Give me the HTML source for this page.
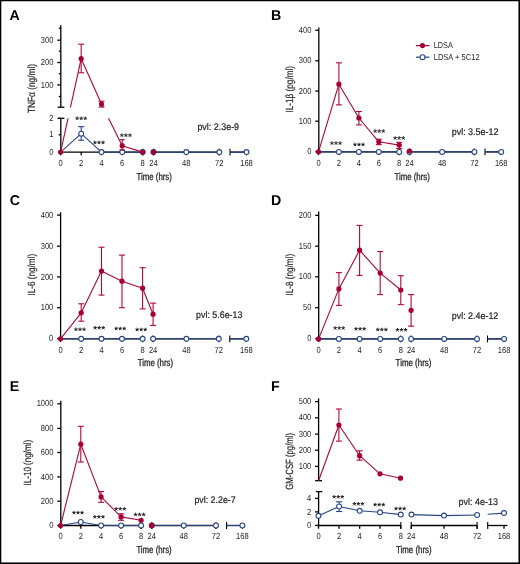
<!DOCTYPE html>
<html><head><meta charset="utf-8"><style>
html,body{margin:0;padding:0;background:#fff;width:520px;height:564px;overflow:hidden}
</style></head><body>
<svg width="520" height="564" viewBox="0 0 520 564" style="position:absolute;left:0;top:0;will-change:transform">
<g font-family='"Liberation Sans", sans-serif' text-rendering="geometricPrecision">
<defs>
<clipPath id="clipA"><rect x="0" y="0" width="260" height="107.4"/><rect x="0" y="118.2" width="260" height="80"/></clipPath>
<clipPath id="clipF"><rect x="260" y="370" width="260" height="110.8"/></clipPath>
</defs>
<rect x="0" y="0" width="520" height="564" fill="#fff"/>
<text x="9.5" y="19.9" font-size="14.2" text-anchor="start" font-weight="bold" fill="#000" >A</text>
<line x1="60.8" y1="25.2" x2="60.8" y2="107.2" stroke="#000" stroke-width="1.3" />
<line x1="57.3" y1="40.2" x2="60.8" y2="40.2" stroke="#000" stroke-width="1.3" />
<text transform="translate(53.50,42.80) scale(0.86,1)" font-size="8.8" text-anchor="end" font-weight="normal" fill="#231f20" >300</text>
<line x1="57.3" y1="62.5" x2="60.8" y2="62.5" stroke="#000" stroke-width="1.3" />
<text transform="translate(53.50,65.10) scale(0.86,1)" font-size="8.8" text-anchor="end" font-weight="normal" fill="#231f20" >200</text>
<line x1="57.3" y1="84.9" x2="60.8" y2="84.9" stroke="#000" stroke-width="1.3" />
<text transform="translate(53.50,87.50) scale(0.86,1)" font-size="8.8" text-anchor="end" font-weight="normal" fill="#231f20" >100</text>
<line x1="58.8" y1="28.3" x2="60.8" y2="28.3" stroke="#000" stroke-width="1.3" />
<line x1="58.8" y1="51.2" x2="60.8" y2="51.2" stroke="#000" stroke-width="1.3" />
<line x1="58.8" y1="73.7" x2="60.8" y2="73.7" stroke="#000" stroke-width="1.3" />
<line x1="58.8" y1="96.5" x2="60.8" y2="96.5" stroke="#000" stroke-width="1.3" />
<line x1="57.6" y1="107.2" x2="64.4" y2="107.2" stroke="#000" stroke-width="1.3" />
<line x1="60.8" y1="118.3" x2="60.8" y2="152.1" stroke="#000" stroke-width="1.3" />
<line x1="58.599999999999994" y1="118.3" x2="60.8" y2="118.3" stroke="#000" stroke-width="1.3" />
<text transform="translate(53.50,120.90) scale(0.86,1)" font-size="8.8" text-anchor="end" font-weight="normal" fill="#231f20" >2</text>
<line x1="58.599999999999994" y1="134.8" x2="60.8" y2="134.8" stroke="#000" stroke-width="1.3" />
<text transform="translate(53.50,137.40) scale(0.86,1)" font-size="8.8" text-anchor="end" font-weight="normal" fill="#231f20" >1</text>
<line x1="58.599999999999994" y1="152.1" x2="60.8" y2="152.1" stroke="#000" stroke-width="1.3" />
<text transform="translate(53.50,154.70) scale(0.86,1)" font-size="8.8" text-anchor="end" font-weight="normal" fill="#231f20" >0</text>
<line x1="57.6" y1="118.3" x2="64.4" y2="118.3" stroke="#000" stroke-width="1.3" />
<line x1="60.8" y1="152.1" x2="142.7" y2="152.1" stroke="#000" stroke-width="1.3" />
<line x1="153.5" y1="152.1" x2="219.3" y2="152.1" stroke="#000" stroke-width="1.3" />
<line x1="230" y1="152.1" x2="248.5" y2="152.1" stroke="#000" stroke-width="1.3" />
<line x1="60.6" y1="152.1" x2="60.6" y2="155.29999999999998" stroke="#000" stroke-width="1.3" />
<line x1="81.2" y1="152.1" x2="81.2" y2="155.29999999999998" stroke="#000" stroke-width="1.3" />
<line x1="101.5" y1="152.1" x2="101.5" y2="155.29999999999998" stroke="#000" stroke-width="1.3" />
<line x1="122.2" y1="152.1" x2="122.2" y2="155.29999999999998" stroke="#000" stroke-width="1.3" />
<line x1="142.7" y1="152.1" x2="142.7" y2="155.29999999999998" stroke="#000" stroke-width="1.3" />
<line x1="153.5" y1="152.1" x2="153.5" y2="155.29999999999998" stroke="#000" stroke-width="1.3" />
<line x1="186.3" y1="152.1" x2="186.3" y2="155.29999999999998" stroke="#000" stroke-width="1.3" />
<line x1="219.3" y1="152.1" x2="219.3" y2="155.29999999999998" stroke="#000" stroke-width="1.3" />
<line x1="246.5" y1="152.1" x2="246.5" y2="155.29999999999998" stroke="#000" stroke-width="1.3" />
<line x1="142.7" y1="148.7" x2="142.7" y2="155.5" stroke="#000" stroke-width="1.1" />
<line x1="153.5" y1="148.7" x2="153.5" y2="155.5" stroke="#000" stroke-width="1.1" />
<line x1="219.3" y1="148.7" x2="219.3" y2="155.5" stroke="#000" stroke-width="1.1" />
<line x1="230" y1="148.7" x2="230" y2="155.5" stroke="#000" stroke-width="1.1" />
<text transform="translate(60.60,166.20) scale(0.86,1)" font-size="8.8" text-anchor="middle" font-weight="normal" fill="#231f20" >0</text>
<text transform="translate(81.20,166.20) scale(0.86,1)" font-size="8.8" text-anchor="middle" font-weight="normal" fill="#231f20" >2</text>
<text transform="translate(101.50,166.20) scale(0.86,1)" font-size="8.8" text-anchor="middle" font-weight="normal" fill="#231f20" >4</text>
<text transform="translate(122.20,166.20) scale(0.86,1)" font-size="8.8" text-anchor="middle" font-weight="normal" fill="#231f20" >6</text>
<text transform="translate(142.70,166.20) scale(0.86,1)" font-size="8.8" text-anchor="middle" font-weight="normal" fill="#231f20" >8</text>
<text transform="translate(153.50,166.20) scale(0.86,1)" font-size="8.8" text-anchor="middle" font-weight="normal" fill="#231f20" >24</text>
<text transform="translate(186.30,166.20) scale(0.86,1)" font-size="8.8" text-anchor="middle" font-weight="normal" fill="#231f20" >48</text>
<text transform="translate(219.30,166.20) scale(0.86,1)" font-size="8.8" text-anchor="middle" font-weight="normal" fill="#231f20" >72</text>
<text transform="translate(246.50,166.20) scale(0.86,1)" font-size="8.8" text-anchor="middle" font-weight="normal" fill="#231f20" >168</text>
<polyline points="60.6,152.1 81.2,133.7 101.5,152.1 122.2,152.1 142.7,152.1" fill="none" stroke="#284683" stroke-width="1.12" stroke-linejoin="round"/>
<polyline points="153.5,152.1 186.3,152.1 219.3,152.1" fill="none" stroke="#284683" stroke-width="1.12" stroke-linejoin="round"/>
<polyline points="230,152.1 246.5,152.1" fill="none" stroke="#284683" stroke-width="1.12" stroke-linejoin="round"/>
<line x1="81.2" y1="126.7" x2="81.2" y2="140.2" stroke="#284683" stroke-width="1.1" />
<line x1="78.10000000000001" y1="126.7" x2="84.3" y2="126.7" stroke="#284683" stroke-width="1.1" />
<line x1="78.10000000000001" y1="140.2" x2="84.3" y2="140.2" stroke="#284683" stroke-width="1.1" />
<circle cx="81.2" cy="133.7" r="2.45" fill="#fff" stroke="#284683" stroke-width="1.1"/>
<circle cx="101.5" cy="152.1" r="2.45" fill="#fff" stroke="#284683" stroke-width="1.1"/>
<circle cx="122.2" cy="152.1" r="2.45" fill="#fff" stroke="#284683" stroke-width="1.1"/>
<circle cx="142.7" cy="152.1" r="2.45" fill="#fff" stroke="#284683" stroke-width="1.1"/>
<circle cx="153.5" cy="152.1" r="2.45" fill="#fff" stroke="#284683" stroke-width="1.1"/>
<circle cx="186.3" cy="152.1" r="2.45" fill="#fff" stroke="#284683" stroke-width="1.1"/>
<circle cx="219.3" cy="152.1" r="2.45" fill="#fff" stroke="#284683" stroke-width="1.1"/>
<circle cx="246.5" cy="152.1" r="2.45" fill="#fff" stroke="#284683" stroke-width="1.1"/>
<polyline points="60.6,152.1 81.2,58.7 101.5,104.1 122.2,145.7 142.7,152.1" fill="none" stroke="#b0083a" stroke-width="1.12" stroke-linejoin="round" clip-path="url(#clipA)"/>
<line x1="81.2" y1="44.2" x2="81.2" y2="72.8" stroke="#b0083a" stroke-width="1.1" />
<line x1="78.2" y1="44.2" x2="84.2" y2="44.2" stroke="#b0083a" stroke-width="1.1" />
<line x1="78.2" y1="72.8" x2="84.2" y2="72.8" stroke="#b0083a" stroke-width="1.1" />
<line x1="101.5" y1="101.25" x2="101.5" y2="107.0" stroke="#b0083a" stroke-width="1.1" />
<line x1="98.5" y1="101.25" x2="104.5" y2="101.25" stroke="#b0083a" stroke-width="1.1" />
<line x1="98.5" y1="107.0" x2="104.5" y2="107.0" stroke="#b0083a" stroke-width="1.1" />
<line x1="122.2" y1="139.7" x2="122.2" y2="150.0" stroke="#b0083a" stroke-width="1.1" />
<line x1="119.7" y1="139.7" x2="124.7" y2="139.7" stroke="#b0083a" stroke-width="1.1" />
<line x1="119.7" y1="150.0" x2="124.7" y2="150.0" stroke="#b0083a" stroke-width="1.1" />
<circle cx="60.6" cy="152.1" r="2.6" fill="#a5002f"/>
<circle cx="81.2" cy="58.7" r="2.6" fill="#a5002f"/>
<circle cx="101.5" cy="104.1" r="2.6" fill="#a5002f"/>
<circle cx="122.2" cy="145.7" r="2.6" fill="#a5002f"/>
<circle cx="142.7" cy="152.1" r="2.6" fill="#a5002f"/>
<circle cx="153.5" cy="152.1" r="2.6" fill="#a5002f"/>
<path d="M77.15,118.40L77.15,116.55M77.15,118.40L78.91,117.83M77.15,118.40L78.24,119.90M77.15,118.40L76.06,119.90M77.15,118.40L75.39,117.83M81.20,118.40L81.20,116.55M81.20,118.40L82.96,117.83M81.20,118.40L82.29,119.90M81.20,118.40L80.11,119.90M81.20,118.40L79.44,117.83M85.25,118.40L85.25,116.55M85.25,118.40L87.01,117.83M85.25,118.40L86.34,119.90M85.25,118.40L84.16,119.90M85.25,118.40L83.49,117.83" stroke="#231f20" stroke-width="1.0" fill="none" stroke-linecap="butt"/>
<path d="M94.95,142.50L94.95,140.65M94.95,142.50L96.71,141.93M94.95,142.50L96.04,144.00M94.95,142.50L93.86,144.00M94.95,142.50L93.19,141.93M99.00,142.50L99.00,140.65M99.00,142.50L100.76,141.93M99.00,142.50L100.09,144.00M99.00,142.50L97.91,144.00M99.00,142.50L97.24,141.93M103.05,142.50L103.05,140.65M103.05,142.50L104.81,141.93M103.05,142.50L104.14,144.00M103.05,142.50L101.96,144.00M103.05,142.50L101.29,141.93" stroke="#231f20" stroke-width="1.0" fill="none" stroke-linecap="butt"/>
<path d="M121.85,135.30L121.85,133.45M121.85,135.30L123.61,134.73M121.85,135.30L122.94,136.80M121.85,135.30L120.76,136.80M121.85,135.30L120.09,134.73M125.90,135.30L125.90,133.45M125.90,135.30L127.66,134.73M125.90,135.30L126.99,136.80M125.90,135.30L124.81,136.80M125.90,135.30L124.14,134.73M129.95,135.30L129.95,133.45M129.95,135.30L131.71,134.73M129.95,135.30L131.04,136.80M129.95,135.30L128.86,136.80M129.95,135.30L128.19,134.73" stroke="#231f20" stroke-width="1.0" fill="none" stroke-linecap="butt"/>
<text x="154.20000000000002" y="179.6" font-size="10" text-anchor="middle" font-weight="normal" fill="#231f20" textLength="35.4" lengthAdjust="spacingAndGlyphs" stroke="#231f20" stroke-width="0.3">Time (hrs)</text>
<text transform="translate(34.70,88.50) rotate(-90)" font-size="10.4" text-anchor="middle" fill="#231f20" stroke="#231f20" stroke-width="0.18" textLength="49.2" lengthAdjust="spacingAndGlyphs">TNFα (ng/ml)</text>
<text x="197.4" y="130.1" font-size="9.6" text-anchor="start" font-weight="normal" fill="#231f20" textLength="41.7" lengthAdjust="spacingAndGlyphs" stroke="#231f20" stroke-width="0.22">pvl: 2.3e-9</text>
<text x="271.0" y="19.7" font-size="14.2" text-anchor="start" font-weight="bold" fill="#000" >B</text>
<line x1="318.8" y1="27.4" x2="318.8" y2="152.0" stroke="#000" stroke-width="1.3" />
<line x1="315.3" y1="30.3" x2="318.8" y2="30.3" stroke="#000" stroke-width="1.3" />
<text transform="translate(311.50,32.90) scale(0.86,1)" font-size="8.8" text-anchor="end" font-weight="normal" fill="#231f20" >400</text>
<line x1="315.3" y1="60.8" x2="318.8" y2="60.8" stroke="#000" stroke-width="1.3" />
<text transform="translate(311.50,63.40) scale(0.86,1)" font-size="8.8" text-anchor="end" font-weight="normal" fill="#231f20" >300</text>
<line x1="315.3" y1="91.1" x2="318.8" y2="91.1" stroke="#000" stroke-width="1.3" />
<text transform="translate(311.50,93.70) scale(0.86,1)" font-size="8.8" text-anchor="end" font-weight="normal" fill="#231f20" >200</text>
<line x1="315.3" y1="121.2" x2="318.8" y2="121.2" stroke="#000" stroke-width="1.3" />
<text transform="translate(311.50,123.80) scale(0.86,1)" font-size="8.8" text-anchor="end" font-weight="normal" fill="#231f20" >100</text>
<line x1="315.3" y1="151.8" x2="318.8" y2="151.8" stroke="#000" stroke-width="1.3" />
<text transform="translate(311.50,154.40) scale(0.86,1)" font-size="8.8" text-anchor="end" font-weight="normal" fill="#231f20" >0</text>
<line x1="318.8" y1="151.9" x2="399.2" y2="151.9" stroke="#000" stroke-width="1.3" />
<line x1="409.5" y1="151.9" x2="474.4" y2="151.9" stroke="#000" stroke-width="1.3" />
<line x1="485" y1="151.9" x2="503.5" y2="151.9" stroke="#000" stroke-width="1.3" />
<line x1="318.5" y1="151.9" x2="318.5" y2="155.1" stroke="#000" stroke-width="1.3" />
<line x1="338.9" y1="151.9" x2="338.9" y2="155.1" stroke="#000" stroke-width="1.3" />
<line x1="358.9" y1="151.9" x2="358.9" y2="155.1" stroke="#000" stroke-width="1.3" />
<line x1="378.8" y1="151.9" x2="378.8" y2="155.1" stroke="#000" stroke-width="1.3" />
<line x1="399.2" y1="151.9" x2="399.2" y2="155.1" stroke="#000" stroke-width="1.3" />
<line x1="409.5" y1="151.9" x2="409.5" y2="155.1" stroke="#000" stroke-width="1.3" />
<line x1="442.1" y1="151.9" x2="442.1" y2="155.1" stroke="#000" stroke-width="1.3" />
<line x1="474.4" y1="151.9" x2="474.4" y2="155.1" stroke="#000" stroke-width="1.3" />
<line x1="501.2" y1="151.9" x2="501.2" y2="155.1" stroke="#000" stroke-width="1.3" />
<line x1="399.2" y1="148.5" x2="399.2" y2="155.3" stroke="#000" stroke-width="1.1" />
<line x1="409.5" y1="148.5" x2="409.5" y2="155.3" stroke="#000" stroke-width="1.1" />
<line x1="474.4" y1="148.5" x2="474.4" y2="155.3" stroke="#000" stroke-width="1.1" />
<line x1="485" y1="148.5" x2="485" y2="155.3" stroke="#000" stroke-width="1.1" />
<text transform="translate(318.50,166.20) scale(0.86,1)" font-size="8.8" text-anchor="middle" font-weight="normal" fill="#231f20" >0</text>
<text transform="translate(338.90,166.20) scale(0.86,1)" font-size="8.8" text-anchor="middle" font-weight="normal" fill="#231f20" >2</text>
<text transform="translate(358.90,166.20) scale(0.86,1)" font-size="8.8" text-anchor="middle" font-weight="normal" fill="#231f20" >4</text>
<text transform="translate(378.80,166.20) scale(0.86,1)" font-size="8.8" text-anchor="middle" font-weight="normal" fill="#231f20" >6</text>
<text transform="translate(399.20,166.20) scale(0.86,1)" font-size="8.8" text-anchor="middle" font-weight="normal" fill="#231f20" >8</text>
<text transform="translate(409.50,166.20) scale(0.86,1)" font-size="8.8" text-anchor="middle" font-weight="normal" fill="#231f20" >24</text>
<text transform="translate(442.10,166.20) scale(0.86,1)" font-size="8.8" text-anchor="middle" font-weight="normal" fill="#231f20" >48</text>
<text transform="translate(474.40,166.20) scale(0.86,1)" font-size="8.8" text-anchor="middle" font-weight="normal" fill="#231f20" >72</text>
<text transform="translate(501.20,166.20) scale(0.86,1)" font-size="8.8" text-anchor="middle" font-weight="normal" fill="#231f20" >168</text>
<polyline points="318.5,151.9 338.9,151.9 358.9,151.9 378.8,151.9 399.2,151.9" fill="none" stroke="#284683" stroke-width="1.12" stroke-linejoin="round"/>
<polyline points="409.5,151.9 442.1,151.9 474.4,151.9" fill="none" stroke="#284683" stroke-width="1.12" stroke-linejoin="round"/>
<polyline points="485,151.9 501.2,151.9" fill="none" stroke="#284683" stroke-width="1.12" stroke-linejoin="round"/>
<circle cx="338.9" cy="151.9" r="2.45" fill="#fff" stroke="#284683" stroke-width="1.1"/>
<circle cx="358.9" cy="151.9" r="2.45" fill="#fff" stroke="#284683" stroke-width="1.1"/>
<circle cx="378.8" cy="151.9" r="2.45" fill="#fff" stroke="#284683" stroke-width="1.1"/>
<circle cx="399.2" cy="151.9" r="2.45" fill="#fff" stroke="#284683" stroke-width="1.1"/>
<circle cx="409.5" cy="151.9" r="2.45" fill="#fff" stroke="#284683" stroke-width="1.1"/>
<circle cx="442.1" cy="151.9" r="2.45" fill="#fff" stroke="#284683" stroke-width="1.1"/>
<circle cx="474.4" cy="151.9" r="2.45" fill="#fff" stroke="#284683" stroke-width="1.1"/>
<circle cx="501.2" cy="151.9" r="2.45" fill="#fff" stroke="#284683" stroke-width="1.1"/>
<polyline points="318.5,151.8 338.9,84.2 358.9,118.0 378.8,141.8 399.2,145.1" fill="none" stroke="#b0083a" stroke-width="1.12" stroke-linejoin="round"/>
<line x1="338.9" y1="62.8" x2="338.9" y2="104.9" stroke="#b0083a" stroke-width="1.1" />
<line x1="335.9" y1="62.8" x2="341.9" y2="62.8" stroke="#b0083a" stroke-width="1.1" />
<line x1="335.9" y1="104.9" x2="341.9" y2="104.9" stroke="#b0083a" stroke-width="1.1" />
<line x1="358.9" y1="111.5" x2="358.9" y2="124.9" stroke="#b0083a" stroke-width="1.1" />
<line x1="355.9" y1="111.5" x2="361.9" y2="111.5" stroke="#b0083a" stroke-width="1.1" />
<line x1="355.9" y1="124.9" x2="361.9" y2="124.9" stroke="#b0083a" stroke-width="1.1" />
<line x1="378.8" y1="139.2" x2="378.8" y2="144.6" stroke="#b0083a" stroke-width="1.1" />
<line x1="375.8" y1="139.2" x2="381.8" y2="139.2" stroke="#b0083a" stroke-width="1.1" />
<line x1="375.8" y1="144.6" x2="381.8" y2="144.6" stroke="#b0083a" stroke-width="1.1" />
<line x1="399.2" y1="142.3" x2="399.2" y2="148.5" stroke="#b0083a" stroke-width="1.1" />
<line x1="396.2" y1="142.3" x2="402.2" y2="142.3" stroke="#b0083a" stroke-width="1.1" />
<line x1="396.2" y1="148.5" x2="402.2" y2="148.5" stroke="#b0083a" stroke-width="1.1" />
<circle cx="318.5" cy="151.8" r="2.6" fill="#a5002f"/>
<circle cx="338.9" cy="84.2" r="2.6" fill="#a5002f"/>
<circle cx="358.9" cy="118.0" r="2.6" fill="#a5002f"/>
<circle cx="378.8" cy="141.8" r="2.6" fill="#a5002f"/>
<circle cx="399.2" cy="145.1" r="2.6" fill="#a5002f"/>
<circle cx="409.5" cy="151.0" r="2.6" fill="#a5002f"/>
<path d="M331.95,143.20L331.95,141.35M331.95,143.20L333.71,142.63M331.95,143.20L333.04,144.70M331.95,143.20L330.86,144.70M331.95,143.20L330.19,142.63M336.00,143.20L336.00,141.35M336.00,143.20L337.76,142.63M336.00,143.20L337.09,144.70M336.00,143.20L334.91,144.70M336.00,143.20L334.24,142.63M340.05,143.20L340.05,141.35M340.05,143.20L341.81,142.63M340.05,143.20L341.14,144.70M340.05,143.20L338.96,144.70M340.05,143.20L338.29,142.63" stroke="#231f20" stroke-width="1.0" fill="none" stroke-linecap="butt"/>
<path d="M354.95,144.60L354.95,142.75M354.95,144.60L356.71,144.03M354.95,144.60L356.04,146.10M354.95,144.60L353.86,146.10M354.95,144.60L353.19,144.03M359.00,144.60L359.00,142.75M359.00,144.60L360.76,144.03M359.00,144.60L360.09,146.10M359.00,144.60L357.91,146.10M359.00,144.60L357.24,144.03M363.05,144.60L363.05,142.75M363.05,144.60L364.81,144.03M363.05,144.60L364.14,146.10M363.05,144.60L361.96,146.10M363.05,144.60L361.29,144.03" stroke="#231f20" stroke-width="1.0" fill="none" stroke-linecap="butt"/>
<path d="M375.15,131.20L375.15,129.35M375.15,131.20L376.91,130.63M375.15,131.20L376.24,132.70M375.15,131.20L374.06,132.70M375.15,131.20L373.39,130.63M379.20,131.20L379.20,129.35M379.20,131.20L380.96,130.63M379.20,131.20L380.29,132.70M379.20,131.20L378.11,132.70M379.20,131.20L377.44,130.63M383.25,131.20L383.25,129.35M383.25,131.20L385.01,130.63M383.25,131.20L384.34,132.70M383.25,131.20L382.16,132.70M383.25,131.20L381.49,130.63" stroke="#231f20" stroke-width="1.0" fill="none" stroke-linecap="butt"/>
<path d="M395.15,138.10L395.15,136.25M395.15,138.10L396.91,137.53M395.15,138.10L396.24,139.60M395.15,138.10L394.06,139.60M395.15,138.10L393.39,137.53M399.20,138.10L399.20,136.25M399.20,138.10L400.96,137.53M399.20,138.10L400.29,139.60M399.20,138.10L398.11,139.60M399.20,138.10L397.44,137.53M403.25,138.10L403.25,136.25M403.25,138.10L405.01,137.53M403.25,138.10L404.34,139.60M403.25,138.10L402.16,139.60M403.25,138.10L401.49,137.53" stroke="#231f20" stroke-width="1.0" fill="none" stroke-linecap="butt"/>
<text x="412.09999999999997" y="179.5" font-size="10" text-anchor="middle" font-weight="normal" fill="#231f20" textLength="35.4" lengthAdjust="spacingAndGlyphs" stroke="#231f20" stroke-width="0.3">Time (hrs)</text>
<text transform="translate(292.90,89.25) rotate(-90)" font-size="10.4" text-anchor="middle" fill="#231f20" stroke="#231f20" stroke-width="0.18" textLength="46.7" lengthAdjust="spacingAndGlyphs">IL-1β (pg/ml)</text>
<text x="451.7" y="134.6" font-size="9.6" text-anchor="start" font-weight="normal" fill="#231f20" textLength="46.8" lengthAdjust="spacingAndGlyphs" stroke="#231f20" stroke-width="0.22">pvl: 3.5e-12</text>
<line x1="415.9" y1="45.6" x2="429.4" y2="45.6" stroke="#a5002f" stroke-width="1.25" />
<circle cx="422.5" cy="45.6" r="2.6" fill="#a5002f"/>
<text x="433.7" y="48.2" font-size="8.6" text-anchor="start" font-weight="normal" fill="#231f20" textLength="19.1" lengthAdjust="spacingAndGlyphs" >LDSA</text>
<line x1="415.9" y1="57.2" x2="429.4" y2="57.2" stroke="#284683" stroke-width="1.25" />
<circle cx="422.5" cy="57.2" r="2.45" fill="#fff" stroke="#284683" stroke-width="1.1"/>
<text x="433.7" y="59.8" font-size="8.6" text-anchor="start" font-weight="normal" fill="#231f20" textLength="45.9" lengthAdjust="spacingAndGlyphs" >LDSA + 5C12</text>
<text x="9.8" y="204.6" font-size="14.2" text-anchor="start" font-weight="bold" fill="#000" >C</text>
<line x1="60.6" y1="212.3" x2="60.6" y2="338.8" stroke="#000" stroke-width="1.3" />
<line x1="57.1" y1="215.1" x2="60.6" y2="215.1" stroke="#000" stroke-width="1.3" />
<text transform="translate(53.30,217.70) scale(0.86,1)" font-size="8.8" text-anchor="end" font-weight="normal" fill="#231f20" >400</text>
<line x1="57.1" y1="246.2" x2="60.6" y2="246.2" stroke="#000" stroke-width="1.3" />
<text transform="translate(53.30,248.80) scale(0.86,1)" font-size="8.8" text-anchor="end" font-weight="normal" fill="#231f20" >300</text>
<line x1="57.1" y1="276.9" x2="60.6" y2="276.9" stroke="#000" stroke-width="1.3" />
<text transform="translate(53.30,279.50) scale(0.86,1)" font-size="8.8" text-anchor="end" font-weight="normal" fill="#231f20" >200</text>
<line x1="57.1" y1="307.7" x2="60.6" y2="307.7" stroke="#000" stroke-width="1.3" />
<text transform="translate(53.30,310.30) scale(0.86,1)" font-size="8.8" text-anchor="end" font-weight="normal" fill="#231f20" >100</text>
<line x1="57.1" y1="338.6" x2="60.6" y2="338.6" stroke="#000" stroke-width="1.3" />
<text transform="translate(53.30,341.20) scale(0.86,1)" font-size="8.8" text-anchor="end" font-weight="normal" fill="#231f20" >0</text>
<line x1="60.6" y1="338.8" x2="142.6" y2="338.8" stroke="#000" stroke-width="1.3" />
<line x1="153.1" y1="338.8" x2="218.8" y2="338.8" stroke="#000" stroke-width="1.3" />
<line x1="229.8" y1="338.8" x2="248.3" y2="338.8" stroke="#000" stroke-width="1.3" />
<line x1="60.5" y1="338.8" x2="60.5" y2="342.0" stroke="#000" stroke-width="1.3" />
<line x1="81.2" y1="338.8" x2="81.2" y2="342.0" stroke="#000" stroke-width="1.3" />
<line x1="101.5" y1="338.8" x2="101.5" y2="342.0" stroke="#000" stroke-width="1.3" />
<line x1="122.0" y1="338.8" x2="122.0" y2="342.0" stroke="#000" stroke-width="1.3" />
<line x1="142.6" y1="338.8" x2="142.6" y2="342.0" stroke="#000" stroke-width="1.3" />
<line x1="153.1" y1="338.8" x2="153.1" y2="342.0" stroke="#000" stroke-width="1.3" />
<line x1="186.4" y1="338.8" x2="186.4" y2="342.0" stroke="#000" stroke-width="1.3" />
<line x1="218.8" y1="338.8" x2="218.8" y2="342.0" stroke="#000" stroke-width="1.3" />
<line x1="246.3" y1="338.8" x2="246.3" y2="342.0" stroke="#000" stroke-width="1.3" />
<line x1="142.6" y1="335.40000000000003" x2="142.6" y2="342.2" stroke="#000" stroke-width="1.1" />
<line x1="153.1" y1="335.40000000000003" x2="153.1" y2="342.2" stroke="#000" stroke-width="1.1" />
<line x1="218.8" y1="335.40000000000003" x2="218.8" y2="342.2" stroke="#000" stroke-width="1.1" />
<line x1="229.8" y1="335.40000000000003" x2="229.8" y2="342.2" stroke="#000" stroke-width="1.1" />
<text transform="translate(60.50,352.60) scale(0.86,1)" font-size="8.8" text-anchor="middle" font-weight="normal" fill="#231f20" >0</text>
<text transform="translate(81.20,352.60) scale(0.86,1)" font-size="8.8" text-anchor="middle" font-weight="normal" fill="#231f20" >2</text>
<text transform="translate(101.50,352.60) scale(0.86,1)" font-size="8.8" text-anchor="middle" font-weight="normal" fill="#231f20" >4</text>
<text transform="translate(122.00,352.60) scale(0.86,1)" font-size="8.8" text-anchor="middle" font-weight="normal" fill="#231f20" >6</text>
<text transform="translate(142.60,352.60) scale(0.86,1)" font-size="8.8" text-anchor="middle" font-weight="normal" fill="#231f20" >8</text>
<text transform="translate(153.10,352.60) scale(0.86,1)" font-size="8.8" text-anchor="middle" font-weight="normal" fill="#231f20" >24</text>
<text transform="translate(186.40,352.60) scale(0.86,1)" font-size="8.8" text-anchor="middle" font-weight="normal" fill="#231f20" >48</text>
<text transform="translate(218.80,352.60) scale(0.86,1)" font-size="8.8" text-anchor="middle" font-weight="normal" fill="#231f20" >72</text>
<text transform="translate(246.30,352.60) scale(0.86,1)" font-size="8.8" text-anchor="middle" font-weight="normal" fill="#231f20" >168</text>
<polyline points="60.5,338.8 81.2,338.8 101.5,338.8 122.0,338.8 142.6,338.8" fill="none" stroke="#284683" stroke-width="1.12" stroke-linejoin="round"/>
<polyline points="153.1,338.8 186.4,338.8 218.8,338.8" fill="none" stroke="#284683" stroke-width="1.12" stroke-linejoin="round"/>
<polyline points="229.8,338.8 246.3,338.8" fill="none" stroke="#284683" stroke-width="1.12" stroke-linejoin="round"/>
<circle cx="81.2" cy="338.8" r="2.45" fill="#fff" stroke="#284683" stroke-width="1.1"/>
<circle cx="101.5" cy="338.8" r="2.45" fill="#fff" stroke="#284683" stroke-width="1.1"/>
<circle cx="122.0" cy="338.8" r="2.45" fill="#fff" stroke="#284683" stroke-width="1.1"/>
<circle cx="142.6" cy="338.8" r="2.45" fill="#fff" stroke="#284683" stroke-width="1.1"/>
<circle cx="153.1" cy="338.8" r="2.45" fill="#fff" stroke="#284683" stroke-width="1.1"/>
<circle cx="186.4" cy="338.8" r="2.45" fill="#fff" stroke="#284683" stroke-width="1.1"/>
<circle cx="218.8" cy="338.8" r="2.45" fill="#fff" stroke="#284683" stroke-width="1.1"/>
<circle cx="246.3" cy="338.8" r="2.45" fill="#fff" stroke="#284683" stroke-width="1.1"/>
<polyline points="60.5,338.8 81.2,312.8 101.5,271.1 122.0,281.2 142.6,288.2 153.1,314.2" fill="none" stroke="#b0083a" stroke-width="1.12" stroke-linejoin="round"/>
<line x1="81.2" y1="303.8" x2="81.2" y2="321.2" stroke="#b0083a" stroke-width="1.1" />
<line x1="78.2" y1="303.8" x2="84.2" y2="303.8" stroke="#b0083a" stroke-width="1.1" />
<line x1="78.2" y1="321.2" x2="84.2" y2="321.2" stroke="#b0083a" stroke-width="1.1" />
<line x1="101.5" y1="247.2" x2="101.5" y2="295.1" stroke="#b0083a" stroke-width="1.1" />
<line x1="98.5" y1="247.2" x2="104.5" y2="247.2" stroke="#b0083a" stroke-width="1.1" />
<line x1="98.5" y1="295.1" x2="104.5" y2="295.1" stroke="#b0083a" stroke-width="1.1" />
<line x1="122.0" y1="255.1" x2="122.0" y2="307.7" stroke="#b0083a" stroke-width="1.1" />
<line x1="119.0" y1="255.1" x2="125.0" y2="255.1" stroke="#b0083a" stroke-width="1.1" />
<line x1="119.0" y1="307.7" x2="125.0" y2="307.7" stroke="#b0083a" stroke-width="1.1" />
<line x1="142.6" y1="267.7" x2="142.6" y2="308.9" stroke="#b0083a" stroke-width="1.1" />
<line x1="139.6" y1="267.7" x2="145.6" y2="267.7" stroke="#b0083a" stroke-width="1.1" />
<line x1="139.6" y1="308.9" x2="145.6" y2="308.9" stroke="#b0083a" stroke-width="1.1" />
<line x1="153.1" y1="303.1" x2="153.1" y2="325.4" stroke="#b0083a" stroke-width="1.1" />
<line x1="150.1" y1="303.1" x2="156.1" y2="303.1" stroke="#b0083a" stroke-width="1.1" />
<line x1="150.1" y1="325.4" x2="156.1" y2="325.4" stroke="#b0083a" stroke-width="1.1" />
<circle cx="60.5" cy="338.8" r="2.6" fill="#a5002f"/>
<circle cx="81.2" cy="312.8" r="2.6" fill="#a5002f"/>
<circle cx="101.5" cy="271.1" r="2.6" fill="#a5002f"/>
<circle cx="122.0" cy="281.2" r="2.6" fill="#a5002f"/>
<circle cx="142.6" cy="288.2" r="2.6" fill="#a5002f"/>
<circle cx="153.1" cy="314.2" r="2.6" fill="#a5002f"/>
<path d="M75.95,329.40L75.95,327.55M75.95,329.40L77.71,328.83M75.95,329.40L77.04,330.90M75.95,329.40L74.86,330.90M75.95,329.40L74.19,328.83M80.00,329.40L80.00,327.55M80.00,329.40L81.76,328.83M80.00,329.40L81.09,330.90M80.00,329.40L78.91,330.90M80.00,329.40L78.24,328.83M84.05,329.40L84.05,327.55M84.05,329.40L85.81,328.83M84.05,329.40L85.14,330.90M84.05,329.40L82.96,330.90M84.05,329.40L82.29,328.83" stroke="#231f20" stroke-width="1.0" fill="none" stroke-linecap="butt"/>
<path d="M95.15,327.80L95.15,325.95M95.15,327.80L96.91,327.23M95.15,327.80L96.24,329.30M95.15,327.80L94.06,329.30M95.15,327.80L93.39,327.23M99.20,327.80L99.20,325.95M99.20,327.80L100.96,327.23M99.20,327.80L100.29,329.30M99.20,327.80L98.11,329.30M99.20,327.80L97.44,327.23M103.25,327.80L103.25,325.95M103.25,327.80L105.01,327.23M103.25,327.80L104.34,329.30M103.25,327.80L102.16,329.30M103.25,327.80L101.49,327.23" stroke="#231f20" stroke-width="1.0" fill="none" stroke-linecap="butt"/>
<path d="M116.15,328.60L116.15,326.75M116.15,328.60L117.91,328.03M116.15,328.60L117.24,330.10M116.15,328.60L115.06,330.10M116.15,328.60L114.39,328.03M120.20,328.60L120.20,326.75M120.20,328.60L121.96,328.03M120.20,328.60L121.29,330.10M120.20,328.60L119.11,330.10M120.20,328.60L118.44,328.03M124.25,328.60L124.25,326.75M124.25,328.60L126.01,328.03M124.25,328.60L125.34,330.10M124.25,328.60L123.16,330.10M124.25,328.60L122.49,328.03" stroke="#231f20" stroke-width="1.0" fill="none" stroke-linecap="butt"/>
<path d="M137.15,329.60L137.15,327.75M137.15,329.60L138.91,329.03M137.15,329.60L138.24,331.10M137.15,329.60L136.06,331.10M137.15,329.60L135.39,329.03M141.20,329.60L141.20,327.75M141.20,329.60L142.96,329.03M141.20,329.60L142.29,331.10M141.20,329.60L140.11,331.10M141.20,329.60L139.44,329.03M145.25,329.60L145.25,327.75M145.25,329.60L147.01,329.03M145.25,329.60L146.34,331.10M145.25,329.60L144.16,331.10M145.25,329.60L143.49,329.03" stroke="#231f20" stroke-width="1.0" fill="none" stroke-linecap="butt"/>
<text x="155.4" y="366.0" font-size="10" text-anchor="middle" font-weight="normal" fill="#231f20" textLength="35.4" lengthAdjust="spacingAndGlyphs" stroke="#231f20" stroke-width="0.3">Time (hrs)</text>
<text transform="translate(34.90,274.70) rotate(-90)" font-size="10.4" text-anchor="middle" fill="#231f20" stroke="#231f20" stroke-width="0.18" textLength="41.6" lengthAdjust="spacingAndGlyphs">IL-6 (ng/ml)</text>
<text x="196.1" y="318.20000000000005" font-size="9.6" text-anchor="start" font-weight="normal" fill="#231f20" textLength="46.3" lengthAdjust="spacingAndGlyphs" stroke="#231f20" stroke-width="0.22">pvl: 5.6e-13</text>
<text x="271.0" y="204.6" font-size="14.2" text-anchor="start" font-weight="bold" fill="#000" >D</text>
<line x1="318.7" y1="211.6" x2="318.7" y2="338.9" stroke="#000" stroke-width="1.3" />
<line x1="315.2" y1="215.4" x2="318.7" y2="215.4" stroke="#000" stroke-width="1.3" />
<text transform="translate(311.40,218.00) scale(0.86,1)" font-size="8.8" text-anchor="end" font-weight="normal" fill="#231f20" >200</text>
<line x1="315.2" y1="246.2" x2="318.7" y2="246.2" stroke="#000" stroke-width="1.3" />
<text transform="translate(311.40,248.80) scale(0.86,1)" font-size="8.8" text-anchor="end" font-weight="normal" fill="#231f20" >150</text>
<line x1="315.2" y1="276.8" x2="318.7" y2="276.8" stroke="#000" stroke-width="1.3" />
<text transform="translate(311.40,279.40) scale(0.86,1)" font-size="8.8" text-anchor="end" font-weight="normal" fill="#231f20" >100</text>
<line x1="315.2" y1="307.7" x2="318.7" y2="307.7" stroke="#000" stroke-width="1.3" />
<text transform="translate(311.40,310.30) scale(0.86,1)" font-size="8.8" text-anchor="end" font-weight="normal" fill="#231f20" >50</text>
<line x1="315.2" y1="338.6" x2="318.7" y2="338.6" stroke="#000" stroke-width="1.3" />
<text transform="translate(311.40,341.20) scale(0.86,1)" font-size="8.8" text-anchor="end" font-weight="normal" fill="#231f20" >0</text>
<line x1="318.3" y1="338.9" x2="400.5" y2="338.9" stroke="#000" stroke-width="1.3" />
<line x1="411.2" y1="338.9" x2="476.5" y2="338.9" stroke="#000" stroke-width="1.3" />
<line x1="487.5" y1="338.9" x2="506.1" y2="338.9" stroke="#000" stroke-width="1.3" />
<line x1="318.6" y1="338.9" x2="318.6" y2="342.09999999999997" stroke="#000" stroke-width="1.3" />
<line x1="338.9" y1="338.9" x2="338.9" y2="342.09999999999997" stroke="#000" stroke-width="1.3" />
<line x1="359.6" y1="338.9" x2="359.6" y2="342.09999999999997" stroke="#000" stroke-width="1.3" />
<line x1="380.2" y1="338.9" x2="380.2" y2="342.09999999999997" stroke="#000" stroke-width="1.3" />
<line x1="400.8" y1="338.9" x2="400.8" y2="342.09999999999997" stroke="#000" stroke-width="1.3" />
<line x1="411.1" y1="338.9" x2="411.1" y2="342.09999999999997" stroke="#000" stroke-width="1.3" />
<line x1="444.2" y1="338.9" x2="444.2" y2="342.09999999999997" stroke="#000" stroke-width="1.3" />
<line x1="477.0" y1="338.9" x2="477.0" y2="342.09999999999997" stroke="#000" stroke-width="1.3" />
<line x1="504.1" y1="338.9" x2="504.1" y2="342.09999999999997" stroke="#000" stroke-width="1.3" />
<line x1="400.8" y1="335.5" x2="400.8" y2="342.29999999999995" stroke="#000" stroke-width="1.1" />
<line x1="411.1" y1="335.5" x2="411.1" y2="342.29999999999995" stroke="#000" stroke-width="1.1" />
<line x1="477.0" y1="335.5" x2="477.0" y2="342.29999999999995" stroke="#000" stroke-width="1.1" />
<line x1="487.5" y1="335.5" x2="487.5" y2="342.29999999999995" stroke="#000" stroke-width="1.1" />
<text transform="translate(318.60,352.60) scale(0.86,1)" font-size="8.8" text-anchor="middle" font-weight="normal" fill="#231f20" >0</text>
<text transform="translate(338.90,352.60) scale(0.86,1)" font-size="8.8" text-anchor="middle" font-weight="normal" fill="#231f20" >2</text>
<text transform="translate(359.60,352.60) scale(0.86,1)" font-size="8.8" text-anchor="middle" font-weight="normal" fill="#231f20" >4</text>
<text transform="translate(380.20,352.60) scale(0.86,1)" font-size="8.8" text-anchor="middle" font-weight="normal" fill="#231f20" >6</text>
<text transform="translate(400.80,352.60) scale(0.86,1)" font-size="8.8" text-anchor="middle" font-weight="normal" fill="#231f20" >8</text>
<text transform="translate(411.10,352.60) scale(0.86,1)" font-size="8.8" text-anchor="middle" font-weight="normal" fill="#231f20" >24</text>
<text transform="translate(444.20,352.60) scale(0.86,1)" font-size="8.8" text-anchor="middle" font-weight="normal" fill="#231f20" >48</text>
<text transform="translate(477.00,352.60) scale(0.86,1)" font-size="8.8" text-anchor="middle" font-weight="normal" fill="#231f20" >72</text>
<text transform="translate(504.10,352.60) scale(0.86,1)" font-size="8.8" text-anchor="middle" font-weight="normal" fill="#231f20" >168</text>
<polyline points="318.6,338.9 338.9,338.9 359.6,338.9 380.2,338.9 400.8,338.9" fill="none" stroke="#284683" stroke-width="1.12" stroke-linejoin="round"/>
<polyline points="411.1,338.9 444.2,338.9 477.0,338.9" fill="none" stroke="#284683" stroke-width="1.12" stroke-linejoin="round"/>
<polyline points="487.5,338.9 504.1,338.9" fill="none" stroke="#284683" stroke-width="1.12" stroke-linejoin="round"/>
<circle cx="338.9" cy="338.9" r="2.45" fill="#fff" stroke="#284683" stroke-width="1.1"/>
<circle cx="359.6" cy="338.9" r="2.45" fill="#fff" stroke="#284683" stroke-width="1.1"/>
<circle cx="380.2" cy="338.9" r="2.45" fill="#fff" stroke="#284683" stroke-width="1.1"/>
<circle cx="400.8" cy="338.9" r="2.45" fill="#fff" stroke="#284683" stroke-width="1.1"/>
<circle cx="411.1" cy="338.9" r="2.45" fill="#fff" stroke="#284683" stroke-width="1.1"/>
<circle cx="444.2" cy="338.9" r="2.45" fill="#fff" stroke="#284683" stroke-width="1.1"/>
<circle cx="477.0" cy="338.9" r="2.45" fill="#fff" stroke="#284683" stroke-width="1.1"/>
<circle cx="504.1" cy="338.9" r="2.45" fill="#fff" stroke="#284683" stroke-width="1.1"/>
<polyline points="318.6,338.9 338.9,288.9 359.6,250.2 380.2,273.1 400.8,290.0" fill="none" stroke="#b0083a" stroke-width="1.12" stroke-linejoin="round"/>
<line x1="338.9" y1="272.6" x2="338.9" y2="305.4" stroke="#b0083a" stroke-width="1.1" />
<line x1="335.9" y1="272.6" x2="341.9" y2="272.6" stroke="#b0083a" stroke-width="1.1" />
<line x1="335.9" y1="305.4" x2="341.9" y2="305.4" stroke="#b0083a" stroke-width="1.1" />
<line x1="359.6" y1="225.4" x2="359.6" y2="275.4" stroke="#b0083a" stroke-width="1.1" />
<line x1="356.6" y1="225.4" x2="362.6" y2="225.4" stroke="#b0083a" stroke-width="1.1" />
<line x1="356.6" y1="275.4" x2="362.6" y2="275.4" stroke="#b0083a" stroke-width="1.1" />
<line x1="380.2" y1="251.5" x2="380.2" y2="294.6" stroke="#b0083a" stroke-width="1.1" />
<line x1="377.2" y1="251.5" x2="383.2" y2="251.5" stroke="#b0083a" stroke-width="1.1" />
<line x1="377.2" y1="294.6" x2="383.2" y2="294.6" stroke="#b0083a" stroke-width="1.1" />
<line x1="400.8" y1="275.7" x2="400.8" y2="304.6" stroke="#b0083a" stroke-width="1.1" />
<line x1="397.8" y1="275.7" x2="403.8" y2="275.7" stroke="#b0083a" stroke-width="1.1" />
<line x1="397.8" y1="304.6" x2="403.8" y2="304.6" stroke="#b0083a" stroke-width="1.1" />
<line x1="411.1" y1="294.6" x2="411.1" y2="326.2" stroke="#b0083a" stroke-width="1.1" />
<line x1="408.1" y1="294.6" x2="414.1" y2="294.6" stroke="#b0083a" stroke-width="1.1" />
<line x1="408.1" y1="326.2" x2="414.1" y2="326.2" stroke="#b0083a" stroke-width="1.1" />
<circle cx="318.6" cy="338.9" r="2.6" fill="#a5002f"/>
<circle cx="338.9" cy="288.9" r="2.6" fill="#a5002f"/>
<circle cx="359.6" cy="250.2" r="2.6" fill="#a5002f"/>
<circle cx="380.2" cy="273.1" r="2.6" fill="#a5002f"/>
<circle cx="400.8" cy="290.0" r="2.6" fill="#a5002f"/>
<circle cx="411.1" cy="310.3" r="2.6" fill="#a5002f"/>
<path d="M335.15,328.10L335.15,326.25M335.15,328.10L336.91,327.53M335.15,328.10L336.24,329.60M335.15,328.10L334.06,329.60M335.15,328.10L333.39,327.53M339.20,328.10L339.20,326.25M339.20,328.10L340.96,327.53M339.20,328.10L340.29,329.60M339.20,328.10L338.11,329.60M339.20,328.10L337.44,327.53M343.25,328.10L343.25,326.25M343.25,328.10L345.01,327.53M343.25,328.10L344.34,329.60M343.25,328.10L342.16,329.60M343.25,328.10L341.49,327.53" stroke="#231f20" stroke-width="1.0" fill="none" stroke-linecap="butt"/>
<path d="M356.05,328.90L356.05,327.05M356.05,328.90L357.81,328.33M356.05,328.90L357.14,330.40M356.05,328.90L354.96,330.40M356.05,328.90L354.29,328.33M360.10,328.90L360.10,327.05M360.10,328.90L361.86,328.33M360.10,328.90L361.19,330.40M360.10,328.90L359.01,330.40M360.10,328.90L358.34,328.33M364.15,328.90L364.15,327.05M364.15,328.90L365.91,328.33M364.15,328.90L365.24,330.40M364.15,328.90L363.06,330.40M364.15,328.90L362.39,328.33" stroke="#231f20" stroke-width="1.0" fill="none" stroke-linecap="butt"/>
<path d="M377.75,329.60L377.75,327.75M377.75,329.60L379.51,329.03M377.75,329.60L378.84,331.10M377.75,329.60L376.66,331.10M377.75,329.60L375.99,329.03M381.80,329.60L381.80,327.75M381.80,329.60L383.56,329.03M381.80,329.60L382.89,331.10M381.80,329.60L380.71,331.10M381.80,329.60L380.04,329.03M385.85,329.60L385.85,327.75M385.85,329.60L387.61,329.03M385.85,329.60L386.94,331.10M385.85,329.60L384.76,331.10M385.85,329.60L384.09,329.03" stroke="#231f20" stroke-width="1.0" fill="none" stroke-linecap="butt"/>
<path d="M397.45,329.90L397.45,328.05M397.45,329.90L399.21,329.33M397.45,329.90L398.54,331.40M397.45,329.90L396.36,331.40M397.45,329.90L395.69,329.33M401.50,329.90L401.50,328.05M401.50,329.90L403.26,329.33M401.50,329.90L402.59,331.40M401.50,329.90L400.41,331.40M401.50,329.90L399.74,329.33M405.55,329.90L405.55,328.05M405.55,329.90L407.31,329.33M405.55,329.90L406.64,331.40M405.55,329.90L404.46,331.40M405.55,329.90L403.79,329.33" stroke="#231f20" stroke-width="1.0" fill="none" stroke-linecap="butt"/>
<text x="413.5" y="366.2" font-size="10" text-anchor="middle" font-weight="normal" fill="#231f20" textLength="35.8" lengthAdjust="spacingAndGlyphs" stroke="#231f20" stroke-width="0.3">Time (hrs)</text>
<text transform="translate(292.90,274.70) rotate(-90)" font-size="10.4" text-anchor="middle" fill="#231f20" stroke="#231f20" stroke-width="0.18" textLength="41.6" lengthAdjust="spacingAndGlyphs">IL-8 (ng/ml)</text>
<text x="451.8" y="319.1" font-size="9.6" text-anchor="start" font-weight="normal" fill="#231f20" textLength="46.5" lengthAdjust="spacingAndGlyphs" stroke="#231f20" stroke-width="0.22">pvl: 2.4e-12</text>
<text x="9.8" y="391.2" font-size="14.2" text-anchor="start" font-weight="bold" fill="#000" >E</text>
<line x1="60.8" y1="400.8" x2="60.8" y2="525.5" stroke="#000" stroke-width="1.3" />
<line x1="57.3" y1="403.8" x2="60.8" y2="403.8" stroke="#000" stroke-width="1.3" />
<text transform="translate(53.50,406.40) scale(0.86,1)" font-size="8.8" text-anchor="end" font-weight="normal" fill="#231f20" >1000</text>
<line x1="57.3" y1="428.4" x2="60.8" y2="428.4" stroke="#000" stroke-width="1.3" />
<text transform="translate(53.50,431.00) scale(0.86,1)" font-size="8.8" text-anchor="end" font-weight="normal" fill="#231f20" >800</text>
<line x1="57.3" y1="452.5" x2="60.8" y2="452.5" stroke="#000" stroke-width="1.3" />
<text transform="translate(53.50,455.10) scale(0.86,1)" font-size="8.8" text-anchor="end" font-weight="normal" fill="#231f20" >600</text>
<line x1="57.3" y1="476.9" x2="60.8" y2="476.9" stroke="#000" stroke-width="1.3" />
<text transform="translate(53.50,479.50) scale(0.86,1)" font-size="8.8" text-anchor="end" font-weight="normal" fill="#231f20" >400</text>
<line x1="57.3" y1="501.2" x2="60.8" y2="501.2" stroke="#000" stroke-width="1.3" />
<text transform="translate(53.50,503.80) scale(0.86,1)" font-size="8.8" text-anchor="end" font-weight="normal" fill="#231f20" >200</text>
<line x1="57.3" y1="525.5" x2="60.8" y2="525.5" stroke="#000" stroke-width="1.3" />
<text transform="translate(53.50,528.10) scale(0.86,1)" font-size="8.8" text-anchor="end" font-weight="normal" fill="#231f20" >0</text>
<line x1="60.8" y1="525.5" x2="141.1" y2="525.5" stroke="#000" stroke-width="1.3" />
<line x1="151.8" y1="525.5" x2="216.0" y2="525.5" stroke="#000" stroke-width="1.3" />
<line x1="226.6" y1="525.5" x2="244.4" y2="525.5" stroke="#000" stroke-width="1.3" />
<line x1="60.6" y1="525.5" x2="60.6" y2="528.7" stroke="#000" stroke-width="1.3" />
<line x1="80.8" y1="525.5" x2="80.8" y2="528.7" stroke="#000" stroke-width="1.3" />
<line x1="101.1" y1="525.5" x2="101.1" y2="528.7" stroke="#000" stroke-width="1.3" />
<line x1="121.1" y1="525.5" x2="121.1" y2="528.7" stroke="#000" stroke-width="1.3" />
<line x1="141.1" y1="525.5" x2="141.1" y2="528.7" stroke="#000" stroke-width="1.3" />
<line x1="151.8" y1="525.5" x2="151.8" y2="528.7" stroke="#000" stroke-width="1.3" />
<line x1="183.8" y1="525.5" x2="183.8" y2="528.7" stroke="#000" stroke-width="1.3" />
<line x1="216.0" y1="525.5" x2="216.0" y2="528.7" stroke="#000" stroke-width="1.3" />
<line x1="242.4" y1="525.5" x2="242.4" y2="528.7" stroke="#000" stroke-width="1.3" />
<line x1="141.1" y1="522.1" x2="141.1" y2="528.9" stroke="#000" stroke-width="1.1" />
<line x1="151.8" y1="522.1" x2="151.8" y2="528.9" stroke="#000" stroke-width="1.1" />
<line x1="216.0" y1="522.1" x2="216.0" y2="528.9" stroke="#000" stroke-width="1.1" />
<line x1="226.6" y1="522.1" x2="226.6" y2="528.9" stroke="#000" stroke-width="1.1" />
<text transform="translate(60.60,539.30) scale(0.86,1)" font-size="8.8" text-anchor="middle" font-weight="normal" fill="#231f20" >0</text>
<text transform="translate(80.80,539.30) scale(0.86,1)" font-size="8.8" text-anchor="middle" font-weight="normal" fill="#231f20" >2</text>
<text transform="translate(101.10,539.30) scale(0.86,1)" font-size="8.8" text-anchor="middle" font-weight="normal" fill="#231f20" >4</text>
<text transform="translate(121.10,539.30) scale(0.86,1)" font-size="8.8" text-anchor="middle" font-weight="normal" fill="#231f20" >6</text>
<text transform="translate(141.10,539.30) scale(0.86,1)" font-size="8.8" text-anchor="middle" font-weight="normal" fill="#231f20" >8</text>
<text transform="translate(151.80,539.30) scale(0.86,1)" font-size="8.8" text-anchor="middle" font-weight="normal" fill="#231f20" >24</text>
<text transform="translate(183.80,539.30) scale(0.86,1)" font-size="8.8" text-anchor="middle" font-weight="normal" fill="#231f20" >48</text>
<text transform="translate(216.00,539.30) scale(0.86,1)" font-size="8.8" text-anchor="middle" font-weight="normal" fill="#231f20" >72</text>
<text transform="translate(242.40,539.30) scale(0.86,1)" font-size="8.8" text-anchor="middle" font-weight="normal" fill="#231f20" >168</text>
<polyline points="60.6,525.5 80.8,522.0 101.1,525.5 121.1,525.5 141.1,525.5" fill="none" stroke="#284683" stroke-width="1.12" stroke-linejoin="round"/>
<polyline points="151.8,525.5 183.8,525.5 216.0,525.5" fill="none" stroke="#284683" stroke-width="1.12" stroke-linejoin="round"/>
<polyline points="226.6,525.5 242.4,525.5" fill="none" stroke="#284683" stroke-width="1.12" stroke-linejoin="round"/>
<circle cx="80.8" cy="522.0" r="2.45" fill="#fff" stroke="#284683" stroke-width="1.1"/>
<circle cx="101.1" cy="525.5" r="2.45" fill="#fff" stroke="#284683" stroke-width="1.1"/>
<circle cx="121.1" cy="525.5" r="2.45" fill="#fff" stroke="#284683" stroke-width="1.1"/>
<circle cx="141.1" cy="525.5" r="2.45" fill="#fff" stroke="#284683" stroke-width="1.1"/>
<circle cx="151.8" cy="525.5" r="2.45" fill="#fff" stroke="#284683" stroke-width="1.1"/>
<circle cx="183.8" cy="525.5" r="2.45" fill="#fff" stroke="#284683" stroke-width="1.1"/>
<circle cx="216.0" cy="525.5" r="2.45" fill="#fff" stroke="#284683" stroke-width="1.1"/>
<circle cx="242.4" cy="525.5" r="2.45" fill="#fff" stroke="#284683" stroke-width="1.1"/>
<polyline points="60.6,525.5 80.8,444.2 101.1,496.9 121.1,516.9 141.1,520.3" fill="none" stroke="#b0083a" stroke-width="1.12" stroke-linejoin="round"/>
<line x1="80.8" y1="426.3" x2="80.8" y2="462.0" stroke="#b0083a" stroke-width="1.1" />
<line x1="77.8" y1="426.3" x2="83.8" y2="426.3" stroke="#b0083a" stroke-width="1.1" />
<line x1="77.8" y1="462.0" x2="83.8" y2="462.0" stroke="#b0083a" stroke-width="1.1" />
<line x1="101.1" y1="491.5" x2="101.1" y2="502.3" stroke="#b0083a" stroke-width="1.1" />
<line x1="98.1" y1="491.5" x2="104.1" y2="491.5" stroke="#b0083a" stroke-width="1.1" />
<line x1="98.1" y1="502.3" x2="104.1" y2="502.3" stroke="#b0083a" stroke-width="1.1" />
<line x1="121.1" y1="513.8" x2="121.1" y2="520.3" stroke="#b0083a" stroke-width="1.1" />
<line x1="118.1" y1="513.8" x2="124.1" y2="513.8" stroke="#b0083a" stroke-width="1.1" />
<line x1="118.1" y1="520.3" x2="124.1" y2="520.3" stroke="#b0083a" stroke-width="1.1" />
<circle cx="60.6" cy="525.5" r="2.6" fill="#a5002f"/>
<circle cx="80.8" cy="444.2" r="2.6" fill="#a5002f"/>
<circle cx="101.1" cy="496.9" r="2.6" fill="#a5002f"/>
<circle cx="121.1" cy="516.9" r="2.6" fill="#a5002f"/>
<circle cx="141.1" cy="520.3" r="2.6" fill="#a5002f"/>
<circle cx="151.8" cy="525.4" r="2.6" fill="#a5002f"/>
<path d="M73.95,512.70L73.95,510.85M73.95,512.70L75.71,512.13M73.95,512.70L75.04,514.20M73.95,512.70L72.86,514.20M73.95,512.70L72.19,512.13M78.00,512.70L78.00,510.85M78.00,512.70L79.76,512.13M78.00,512.70L79.09,514.20M78.00,512.70L76.91,514.20M78.00,512.70L76.24,512.13M82.05,512.70L82.05,510.85M82.05,512.70L83.81,512.13M82.05,512.70L83.14,514.20M82.05,512.70L80.96,514.20M82.05,512.70L80.29,512.13" stroke="#231f20" stroke-width="1.0" fill="none" stroke-linecap="butt"/>
<path d="M94.85,516.90L94.85,515.05M94.85,516.90L96.61,516.33M94.85,516.90L95.94,518.40M94.85,516.90L93.76,518.40M94.85,516.90L93.09,516.33M98.90,516.90L98.90,515.05M98.90,516.90L100.66,516.33M98.90,516.90L99.99,518.40M98.90,516.90L97.81,518.40M98.90,516.90L97.14,516.33M102.95,516.90L102.95,515.05M102.95,516.90L104.71,516.33M102.95,516.90L104.04,518.40M102.95,516.90L101.86,518.40M102.95,516.90L101.19,516.33" stroke="#231f20" stroke-width="1.0" fill="none" stroke-linecap="butt"/>
<path d="M116.15,508.90L116.15,507.05M116.15,508.90L117.91,508.33M116.15,508.90L117.24,510.40M116.15,508.90L115.06,510.40M116.15,508.90L114.39,508.33M120.20,508.90L120.20,507.05M120.20,508.90L121.96,508.33M120.20,508.90L121.29,510.40M120.20,508.90L119.11,510.40M120.20,508.90L118.44,508.33M124.25,508.90L124.25,507.05M124.25,508.90L126.01,508.33M124.25,508.90L125.34,510.40M124.25,508.90L123.16,510.40M124.25,508.90L122.49,508.33" stroke="#231f20" stroke-width="1.0" fill="none" stroke-linecap="butt"/>
<path d="M135.55,514.60L135.55,512.75M135.55,514.60L137.31,514.03M135.55,514.60L136.64,516.10M135.55,514.60L134.46,516.10M135.55,514.60L133.79,514.03M139.60,514.60L139.60,512.75M139.60,514.60L141.36,514.03M139.60,514.60L140.69,516.10M139.60,514.60L138.51,516.10M139.60,514.60L137.84,514.03M143.65,514.60L143.65,512.75M143.65,514.60L145.41,514.03M143.65,514.60L144.74,516.10M143.65,514.60L142.56,516.10M143.65,514.60L141.89,514.03" stroke="#231f20" stroke-width="1.0" fill="none" stroke-linecap="butt"/>
<text x="154.04999999999998" y="553.0" font-size="10" text-anchor="middle" font-weight="normal" fill="#231f20" textLength="35.3" lengthAdjust="spacingAndGlyphs" stroke="#231f20" stroke-width="0.3">Time (hrs)</text>
<text transform="translate(30.70,462.65) rotate(-90)" font-size="10.4" text-anchor="middle" fill="#231f20" stroke="#231f20" stroke-width="0.18" textLength="45.7" lengthAdjust="spacingAndGlyphs">IL-10 (ng/ml)</text>
<text x="194.4" y="503.40000000000003" font-size="9.6" text-anchor="start" font-weight="normal" fill="#231f20" textLength="41.3" lengthAdjust="spacingAndGlyphs" stroke="#231f20" stroke-width="0.22">pvl: 2.2e-7</text>
<text x="271.0" y="391.2" font-size="14.2" text-anchor="start" font-weight="bold" fill="#000" >F</text>
<line x1="318.6" y1="398.4" x2="318.6" y2="480.7" stroke="#000" stroke-width="1.3" />
<line x1="315.1" y1="401.6" x2="318.6" y2="401.6" stroke="#000" stroke-width="1.3" />
<text transform="translate(311.30,404.20) scale(0.86,1)" font-size="8.8" text-anchor="end" font-weight="normal" fill="#231f20" >500</text>
<line x1="315.1" y1="417.8" x2="318.6" y2="417.8" stroke="#000" stroke-width="1.3" />
<text transform="translate(311.30,420.40) scale(0.86,1)" font-size="8.8" text-anchor="end" font-weight="normal" fill="#231f20" >400</text>
<line x1="315.1" y1="434.1" x2="318.6" y2="434.1" stroke="#000" stroke-width="1.3" />
<text transform="translate(311.30,436.70) scale(0.86,1)" font-size="8.8" text-anchor="end" font-weight="normal" fill="#231f20" >300</text>
<line x1="315.1" y1="450.2" x2="318.6" y2="450.2" stroke="#000" stroke-width="1.3" />
<text transform="translate(311.30,452.80) scale(0.86,1)" font-size="8.8" text-anchor="end" font-weight="normal" fill="#231f20" >200</text>
<line x1="315.1" y1="466.4" x2="318.6" y2="466.4" stroke="#000" stroke-width="1.3" />
<text transform="translate(311.30,469.00) scale(0.86,1)" font-size="8.8" text-anchor="end" font-weight="normal" fill="#231f20" >100</text>
<line x1="315.1" y1="480.7" x2="322.0" y2="480.7" stroke="#000" stroke-width="1.3" />
<line x1="318.6" y1="491.6" x2="318.6" y2="525.5" stroke="#000" stroke-width="1.3" />
<line x1="315.1" y1="498.4" x2="318.6" y2="498.4" stroke="#000" stroke-width="1.3" />
<text transform="translate(311.30,501.00) scale(0.86,1)" font-size="8.8" text-anchor="end" font-weight="normal" fill="#231f20" >4</text>
<line x1="315.1" y1="511.9" x2="318.6" y2="511.9" stroke="#000" stroke-width="1.3" />
<text transform="translate(311.30,514.50) scale(0.86,1)" font-size="8.8" text-anchor="end" font-weight="normal" fill="#231f20" >2</text>
<line x1="315.1" y1="525.4" x2="318.6" y2="525.4" stroke="#000" stroke-width="1.3" />
<text transform="translate(311.30,528.00) scale(0.86,1)" font-size="8.8" text-anchor="end" font-weight="normal" fill="#231f20" >0</text>
<line x1="315.8" y1="491.6" x2="322.3" y2="491.6" stroke="#000" stroke-width="1.3" />
<line x1="318.6" y1="525.5" x2="400.8" y2="525.5" stroke="#000" stroke-width="1.3" />
<line x1="411.2" y1="525.5" x2="477.1" y2="525.5" stroke="#000" stroke-width="1.3" />
<line x1="487.7" y1="525.5" x2="507.5" y2="525.5" stroke="#000" stroke-width="1.3" />
<line x1="318.5" y1="525.5" x2="318.5" y2="528.7" stroke="#000" stroke-width="1.3" />
<line x1="339.0" y1="525.5" x2="339.0" y2="528.7" stroke="#000" stroke-width="1.3" />
<line x1="359.7" y1="525.5" x2="359.7" y2="528.7" stroke="#000" stroke-width="1.3" />
<line x1="380.0" y1="525.5" x2="380.0" y2="528.7" stroke="#000" stroke-width="1.3" />
<line x1="400.8" y1="525.5" x2="400.8" y2="528.7" stroke="#000" stroke-width="1.3" />
<line x1="411.3" y1="525.5" x2="411.3" y2="528.7" stroke="#000" stroke-width="1.3" />
<line x1="444.0" y1="525.5" x2="444.0" y2="528.7" stroke="#000" stroke-width="1.3" />
<line x1="477.1" y1="525.5" x2="477.1" y2="528.7" stroke="#000" stroke-width="1.3" />
<line x1="504.0" y1="525.5" x2="504.0" y2="528.7" stroke="#000" stroke-width="1.3" />
<line x1="400.8" y1="522.1" x2="400.8" y2="528.9" stroke="#000" stroke-width="1.1" />
<line x1="411.2" y1="522.1" x2="411.2" y2="528.9" stroke="#000" stroke-width="1.1" />
<line x1="477.1" y1="522.1" x2="477.1" y2="528.9" stroke="#000" stroke-width="1.1" />
<line x1="487.7" y1="522.1" x2="487.7" y2="528.9" stroke="#000" stroke-width="1.1" />
<text transform="translate(318.50,539.30) scale(0.86,1)" font-size="8.8" text-anchor="middle" font-weight="normal" fill="#231f20" >0</text>
<text transform="translate(339.00,539.30) scale(0.86,1)" font-size="8.8" text-anchor="middle" font-weight="normal" fill="#231f20" >2</text>
<text transform="translate(359.70,539.30) scale(0.86,1)" font-size="8.8" text-anchor="middle" font-weight="normal" fill="#231f20" >4</text>
<text transform="translate(380.00,539.30) scale(0.86,1)" font-size="8.8" text-anchor="middle" font-weight="normal" fill="#231f20" >6</text>
<text transform="translate(400.80,539.30) scale(0.86,1)" font-size="8.8" text-anchor="middle" font-weight="normal" fill="#231f20" >8</text>
<text transform="translate(411.30,539.30) scale(0.86,1)" font-size="8.8" text-anchor="middle" font-weight="normal" fill="#231f20" >24</text>
<text transform="translate(444.00,539.30) scale(0.86,1)" font-size="8.8" text-anchor="middle" font-weight="normal" fill="#231f20" >48</text>
<text transform="translate(477.10,539.30) scale(0.86,1)" font-size="8.8" text-anchor="middle" font-weight="normal" fill="#231f20" >72</text>
<text transform="translate(504.00,539.30) scale(0.86,1)" font-size="8.8" text-anchor="middle" font-weight="normal" fill="#231f20" >168</text>
<polyline points="318.5,515.8 339.1,506.5 359.7,510.8 380.0,512.3 400.8,514.6" fill="none" stroke="#284683" stroke-width="1.12" stroke-linejoin="round"/>
<polyline points="411.5,514.6 444.0,515.6 477.1,515.0" fill="none" stroke="#284683" stroke-width="1.12" stroke-linejoin="round"/>
<polyline points="487.7,514.2 504.0,513.1" fill="none" stroke="#284683" stroke-width="1.12" stroke-linejoin="round"/>
<line x1="339.1" y1="501.8" x2="339.1" y2="511.5" stroke="#284683" stroke-width="1.1" />
<line x1="336.0" y1="501.8" x2="342.20000000000005" y2="501.8" stroke="#284683" stroke-width="1.1" />
<line x1="336.0" y1="511.5" x2="342.20000000000005" y2="511.5" stroke="#284683" stroke-width="1.1" />
<circle cx="318.5" cy="515.8" r="2.45" fill="#fff" stroke="#284683" stroke-width="1.1"/>
<circle cx="339.1" cy="506.5" r="2.45" fill="#fff" stroke="#284683" stroke-width="1.1"/>
<circle cx="359.7" cy="510.8" r="2.45" fill="#fff" stroke="#284683" stroke-width="1.1"/>
<circle cx="380.0" cy="512.3" r="2.45" fill="#fff" stroke="#284683" stroke-width="1.1"/>
<circle cx="400.8" cy="514.6" r="2.45" fill="#fff" stroke="#284683" stroke-width="1.1"/>
<circle cx="411.5" cy="514.6" r="2.45" fill="#fff" stroke="#284683" stroke-width="1.1"/>
<circle cx="444.0" cy="515.6" r="2.45" fill="#fff" stroke="#284683" stroke-width="1.1"/>
<circle cx="477.1" cy="515.0" r="2.45" fill="#fff" stroke="#284683" stroke-width="1.1"/>
<circle cx="504.0" cy="513.1" r="2.45" fill="#fff" stroke="#284683" stroke-width="1.1"/>
<polyline points="318.6,480.7 338.9,425.0 359.6,455.7 380.0,473.8 400.5,478.2" fill="none" stroke="#b0083a" stroke-width="1.12" stroke-linejoin="round"/>
<line x1="338.9" y1="409.0" x2="338.9" y2="441.1" stroke="#b0083a" stroke-width="1.1" />
<line x1="335.9" y1="409.0" x2="341.9" y2="409.0" stroke="#b0083a" stroke-width="1.1" />
<line x1="335.9" y1="441.1" x2="341.9" y2="441.1" stroke="#b0083a" stroke-width="1.1" />
<line x1="359.6" y1="450.8" x2="359.6" y2="460.2" stroke="#b0083a" stroke-width="1.1" />
<line x1="356.6" y1="450.8" x2="362.6" y2="450.8" stroke="#b0083a" stroke-width="1.1" />
<line x1="356.6" y1="460.2" x2="362.6" y2="460.2" stroke="#b0083a" stroke-width="1.1" />
<circle cx="338.9" cy="425.0" r="2.6" fill="#a5002f"/>
<circle cx="359.6" cy="455.7" r="2.6" fill="#a5002f"/>
<circle cx="380.0" cy="473.8" r="2.6" fill="#a5002f"/>
<circle cx="400.5" cy="478.2" r="2.6" fill="#a5002f"/>
<path d="M334.15,496.90L334.15,495.05M334.15,496.90L335.91,496.33M334.15,496.90L335.24,498.40M334.15,496.90L333.06,498.40M334.15,496.90L332.39,496.33M338.20,496.90L338.20,495.05M338.20,496.90L339.96,496.33M338.20,496.90L339.29,498.40M338.20,496.90L337.11,498.40M338.20,496.90L336.44,496.33M342.25,496.90L342.25,495.05M342.25,496.90L344.01,496.33M342.25,496.90L343.34,498.40M342.25,496.90L341.16,498.40M342.25,496.90L340.49,496.33" stroke="#231f20" stroke-width="1.0" fill="none" stroke-linecap="butt"/>
<path d="M354.35,503.90L354.35,502.05M354.35,503.90L356.11,503.33M354.35,503.90L355.44,505.40M354.35,503.90L353.26,505.40M354.35,503.90L352.59,503.33M358.40,503.90L358.40,502.05M358.40,503.90L360.16,503.33M358.40,503.90L359.49,505.40M358.40,503.90L357.31,505.40M358.40,503.90L356.64,503.33M362.45,503.90L362.45,502.05M362.45,503.90L364.21,503.33M362.45,503.90L363.54,505.40M362.45,503.90L361.36,505.40M362.45,503.90L360.69,503.33" stroke="#231f20" stroke-width="1.0" fill="none" stroke-linecap="butt"/>
<path d="M375.15,504.70L375.15,502.85M375.15,504.70L376.91,504.13M375.15,504.70L376.24,506.20M375.15,504.70L374.06,506.20M375.15,504.70L373.39,504.13M379.20,504.70L379.20,502.85M379.20,504.70L380.96,504.13M379.20,504.70L380.29,506.20M379.20,504.70L378.11,506.20M379.20,504.70L377.44,504.13M383.25,504.70L383.25,502.85M383.25,504.70L385.01,504.13M383.25,504.70L384.34,506.20M383.25,504.70L382.16,506.20M383.25,504.70L381.49,504.13" stroke="#231f20" stroke-width="1.0" fill="none" stroke-linecap="butt"/>
<path d="M396.05,508.60L396.05,506.75M396.05,508.60L397.81,508.03M396.05,508.60L397.14,510.10M396.05,508.60L394.96,510.10M396.05,508.60L394.29,508.03M400.10,508.60L400.10,506.75M400.10,508.60L401.86,508.03M400.10,508.60L401.19,510.10M400.10,508.60L399.01,510.10M400.10,508.60L398.34,508.03M404.15,508.60L404.15,506.75M404.15,508.60L405.91,508.03M404.15,508.60L405.24,510.10M404.15,508.60L403.06,510.10M404.15,508.60L402.39,508.03" stroke="#231f20" stroke-width="1.0" fill="none" stroke-linecap="butt"/>
<text x="413.79999999999995" y="553.0" font-size="10" text-anchor="middle" font-weight="normal" fill="#231f20" textLength="35.6" lengthAdjust="spacingAndGlyphs" stroke="#231f20" stroke-width="0.3">Time (hrs)</text>
<text transform="translate(292.80,461.35) rotate(-90)" font-size="10.4" text-anchor="middle" fill="#231f20" stroke="#231f20" stroke-width="0.18" textLength="56.9" lengthAdjust="spacingAndGlyphs">GM-CSF (pg/ml)</text>
<text x="458.5" y="504.6" font-size="9.6" text-anchor="start" font-weight="normal" fill="#231f20" textLength="39.4" lengthAdjust="spacingAndGlyphs" stroke="#231f20" stroke-width="0.22">pvl: 4e-13</text>
<rect x="0" y="0" width="520" height="1.25" fill="#000"/>
<rect x="0" y="0" width="1.3" height="564" fill="#000"/>
<rect x="518.45" y="0" width="1.55" height="564" fill="#000"/>
<rect x="0" y="562.45" width="520" height="1.55" fill="#000"/>
</g></svg>
</body></html>
